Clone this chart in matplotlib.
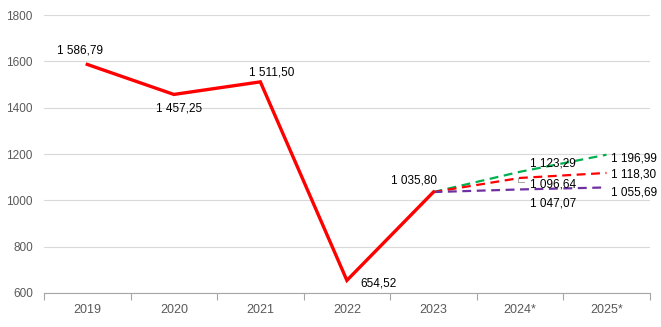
import matplotlib.pyplot as plt
import matplotlib.transforms as mtransforms
import numpy as np

plt.rcParams['font.family'] = ['Liberation Sans', 'DejaVu Sans']

# ── data ──────────────────────────────
years = ['2019', '2020', '2021', '2022', '2023', '2024*', '2025*']
actual = [1586.79, 1457.25, 1511.50, 654.52, 1035.80]
fc_high = [1035.80, 1123.29, 1196.99]
fc_mid = [1035.80, 1096.64, 1118.30]
fc_low = [1035.80, 1047.07, 1055.69]


def fmt(v):
    s = f"{v:,.2f}"
    return s.replace(',', ' ').replace('.', ',')


fig = plt.figure(figsize=(6.61, 3.27), dpi=100)
ax = fig.add_axes([0.0666, 0.104, 0.9164, 0.85])

x = np.arange(len(years)) + 0.5
xa = x[:len(actual)]
xf = x[len(actual) - 1:]

ax.plot(xf, fc_high, color='#00B050', lw=1.6, ls=(0, (4, 2.5)), zorder=2)
ax.plot(xf, fc_mid, color='#FF0000', lw=1.6, ls=(0, (4, 2.5)), zorder=2)
ax.plot(xf, fc_low, color='#7030A0', lw=1.6, ls=(0, (4, 2.5)), zorder=2)
ax.plot(xa, actual, color='#FF0000', lw=2.4, zorder=3, solid_joinstyle='miter')

# labels for actual values (offsets in points)
offs_a = [(-5, 10), (4, -10), (8, 7), (23, -2), (-14, 8)]
for xi, v, (dx, dy) in zip(xa, actual, offs_a):
    ax.annotate(fmt(v), (xi, v), xytext=(dx, dy), textcoords='offset points',
                ha='center', va='center', fontsize=8.5, color='black')

# labels for forecasts
for series, dy24, dy25 in [(fc_high, 6, -3), (fc_mid, -5, -1), (fc_low, -10, -4)]:
    ax.annotate(fmt(series[1]), (xf[1], series[1]), xytext=(24, dy24),
                textcoords='offset points', ha='center', va='center', fontsize=8.5)
    ax.annotate(fmt(series[2]), (xf[2], series[2]), xytext=(3, dy25),
                textcoords='offset points', ha='left', va='center', fontsize=8.5)

# small leader line (L shape) next to the middle forecast label
tr = fig.dpi_scale_trans + mtransforms.ScaledTranslation(xf[1], fc_mid[1], ax.transData)
ax.plot([-0.02, -0.02, 0.04], [0, -0.045, -0.045], transform=tr,
        color='#A6A6A6', lw=0.7, zorder=4)

ax.set_xlim(0, len(years))
ax.set_ylim(600, 1800)
ax.set_yticks(np.arange(600, 1801, 200))
ax.set_xticks(x)
ax.set_xticklabels(years)
ax.set_xticks(np.arange(len(years) + 1), minor=True)
ax.tick_params(axis='x', which='major', length=0, pad=8, labelsize=9, colors='#595959')
ax.tick_params(axis='x', which='minor', length=5, color='#A6A6A6', width=0.8)
ax.tick_params(axis='y', length=0, pad=8, labelsize=8.5, colors='#595959')

ax.grid(axis='y', color='#D9D9D9', lw=0.8)
ax.set_axisbelow(True)
for s in ['top', 'right', 'left']:
    ax.spines[s].set_visible(False)
ax.spines['bottom'].set_color('#A6A6A6')
ax.spines['bottom'].set_linewidth(0.8)

fig.savefig('out.png', dpi=100)
